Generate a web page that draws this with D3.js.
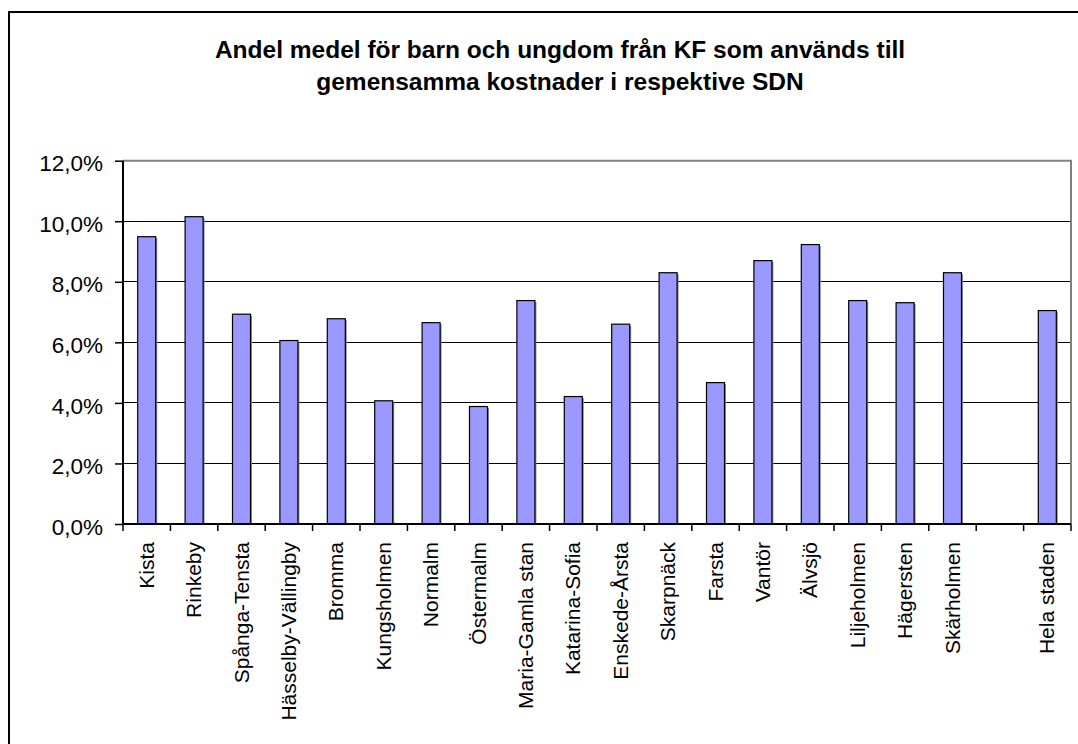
<!DOCTYPE html>
<html>
<head>
<meta charset="utf-8">
<script src="https://cdn.jsdelivr.net/npm/d3@7"></script>
<style>
  html, body { margin: 0; padding: 0; background: #fff; }
  svg { display: block; font-family: "Liberation Sans", Arial, sans-serif; }
</style>
</head>
<body>
<svg id="chart" width="1078" height="744"></svg>
<script>
const titleLines = ["Andel medel för barn och ungdom från KF som används till", "gemensamma kostnader i respektive SDN"];
const categories = ["Kista", "Rinkeby", "Spånga-Tensta", "Hässelby-Vällingby", "Bromma", "Kungsholmen", "Normalm", "Östermalm", "Maria-Gamla stan", "Katarina-Sofia", "Enskede-Årsta", "Skarpnäck", "Farsta", "Vantör", "Älvsjö", "Liljeholmen", "Hägersten", "Skärholmen", "", "Hela staden"];
const values = [0.0949, 0.1015, 0.0693, 0.0606, 0.0678, 0.0407, 0.0665, 0.0388, 0.0738, 0.0421, 0.0660, 0.0830, 0.0467, 0.0870, 0.0923, 0.0738, 0.0731, 0.0830, null, 0.0705];
const yTicks = [0, 0.02, 0.04, 0.06, 0.08, 0.10, 0.12];

const svg = d3.select("#chart");
const pLeft = 123, pRight = 1071, pTop = 160.7, pBottom = 524;

// outer chart border
svg.append("rect").attr("x", 9).attr("y", 12).attr("width", 1100).attr("height", 800)
  .attr("fill", "#fff").attr("stroke", "#000").attr("stroke-width", 2);

// title
svg.append("g").selectAll("text").data(titleLines).join("text")
  .attr("x", 560).attr("y", (d, i) => 58 + i * 31.5)
  .attr("text-anchor", "middle").attr("font-weight", "bold").attr("font-size", 24.5)
  .attr("fill", "#000").text(d => d);

const x = d3.scaleBand().domain(categories.map((c, i) => i)).range([pLeft, pRight])
  .paddingInner(0.62).paddingOuter(0.31);
const y = d3.scaleLinear().domain([0, 0.12]).range([pBottom, pTop]);
const step = x.step();

// gridlines
svg.append("g").attr("shape-rendering", "crispEdges")
  .selectAll("line").data(yTicks.filter(t => t > 0 && t < 0.12)).join("line")
  .attr("x1", pLeft).attr("x2", pRight).attr("y1", d => y(d)).attr("y2", d => y(d))
  .attr("stroke", "#000").attr("stroke-width", 1);

// plot border top/right (gray)
svg.append("path")
  .attr("d", `M${pLeft},${y(0.12)}H${pRight}V${pBottom}`)
  .attr("fill", "none").attr("stroke", "#808080").attr("stroke-width", 2);

// bars
const data = categories.map((c, i) => ({ i, c, v: values[i] })).filter(d => d.v != null);
svg.append("g").selectAll("rect").data(data).join("rect")
  .attr("x", d => x(d.i) + 1.5).attr("y", d => y(d.v) + 1.5)
  .attr("width", x.bandwidth()).attr("height", d => y(0) - y(d.v) - 1.5)
  .attr("fill", "#8c8c8c");
svg.append("g").selectAll("rect").data(data).join("rect")
  .attr("x", d => x(d.i)).attr("y", d => y(d.v))
  .attr("width", x.bandwidth()).attr("height", d => y(0) - y(d.v))
  .attr("fill", "#9999ff").attr("stroke", "#000").attr("stroke-width", 1.2);

// y axis
const yAxis = d3.axisLeft(y).tickValues(yTicks).tickSize(8).tickPadding(12)
  .tickFormat(d => (d * 100).toFixed(1).replace(".", ",") + "%");
const gy = svg.append("g").attr("transform", `translate(${pLeft},0)`).call(yAxis);
gy.select(".domain").attr("stroke", "#000").attr("stroke-width", 2).attr("d", `M0,${pTop}V${pBottom}`);
gy.selectAll(".tick line").attr("stroke", "#000").attr("stroke-width", 1.5);
gy.selectAll(".tick text").attr("font-size", 22.5).attr("fill", "#000").attr("dy", "0.45em")
  .attr("font-family", "Liberation Sans, Arial, sans-serif");

// x axis
const boundaries = categories.map((c, i) => x(i) - step * 0.31).concat([pRight]);
svg.append("line").attr("x1", pLeft).attr("x2", pRight).attr("y1", pBottom).attr("y2", pBottom)
  .attr("stroke", "#000").attr("stroke-width", 2);
svg.append("g").selectAll("line").data(boundaries).join("line")
  .attr("x1", d => d).attr("x2", d => d).attr("y1", pBottom).attr("y2", pBottom + 7)
  .attr("stroke", "#000").attr("stroke-width", 1.5);

svg.append("g").selectAll("text").data(categories.map((c, i) => ({ c, i }))).join("text")
  .attr("transform", d => `translate(${x(d.i) + x.bandwidth() / 2 + 7},${542}) rotate(-90)`)
  .attr("text-anchor", "end").attr("font-size", 21).attr("fill", "#000")
  .text(d => d.c);
</script>
</body>
</html>
